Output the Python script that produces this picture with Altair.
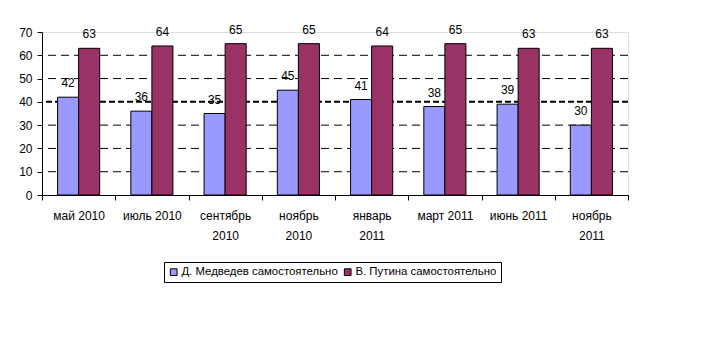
import altair as alt
import pandas as pd

months = ["май 2010", "июль 2010", "сентябрь|2010", "ноябрь|2010",
          "январь|2011", "март 2011", "июнь 2011", "ноябрь|2011"]
series = ["Д. Медведев самостоятельно", "В. Путина самостоятельно"]
medvedev = [42, 36, 35, 45, 41, 38, 39, 30]
putin = [63, 64, 65, 65, 64, 65, 63, 63]
colors = ["#9999FF", "#993366"]

rows = []
for m, a, b in zip(months, medvedev, putin):
    rows.append({"month": m, "series": series[0], "value": a})
    rows.append({"month": m, "series": series[1], "value": b})
df = pd.DataFrame(rows)

grid_thin = pd.DataFrame({"v": [10, 20, 30, 50, 60]})
grid_thick = pd.DataFrame({"v": [40]})

FONT = "Liberation Sans"

y_scale = alt.Scale(domain=[0, 70], nice=False)
y_axis = alt.Axis(values=[0, 10, 20, 30, 40, 50, 60, 70], grid=False, title=None,
                  labelFontSize=12, labelFont=FONT, labelColor="black",
                  tickColor="black", domainColor="black", tickSize=5,
                  labelPadding=5, labelOverlap=False)

x_enc = alt.X("month:N", sort=months, title=None,
              scale=alt.Scale(paddingInner=0, paddingOuter=0),
              axis=alt.Axis(labelExpr="isValid(datum.value) ? split(datum.value, '|') : ''",
                            labelAngle=0,
                            labelFontSize=12, labelFont=FONT, labelColor="black",
                            labelLineHeight=20, labelPadding=10,
                            tickBand="extent", tickSize=5, tickColor="black",
                            domainColor="black", labelBaseline="top",
                            labelOverlap=False, labelBound=False))
xo = alt.XOffset("series:N", sort=series,
                 scale=alt.Scale(paddingInner=0, paddingOuter=0.74))
col = alt.Color("series:N", sort=series,
                scale=alt.Scale(domain=series, range=colors),
                legend=alt.Legend(title=None, orient="none", direction="horizontal",
                                  legendX=122, legendY=230,
                                  strokeColor="black", padding=4,
                                  labelFont=FONT, labelFontSize=11.4, labelColor="black",
                                  labelLimit=0,
                                  symbolType="square", symbolSize=45,
                                  symbolStrokeColor="black", symbolStrokeWidth=1,
                                  columnPadding=4, labelOffset=2))

gl1 = alt.Chart(grid_thin).mark_rule(color="black", strokeDash=[8, 5], strokeWidth=1).encode(
    y=alt.Y("v:Q", scale=y_scale, axis=y_axis))
gl2 = alt.Chart(grid_thick).mark_rule(color="black", strokeDash=[6, 3], strokeWidth=2).encode(
    y=alt.Y("v:Q", scale=y_scale, axis=y_axis))

bars = alt.Chart(df).mark_bar(stroke="black", strokeWidth=1).encode(
    x=x_enc, y=alt.Y("value:Q", scale=y_scale, axis=y_axis), xOffset=xo, color=col)
labels = alt.Chart(df).mark_text(baseline="bottom", dy=-7, fontSize=12, font=FONT,
                                 color="black").encode(
    x=alt.X("month:N", sort=months), y=alt.Y("value:Q", scale=y_scale, axis=y_axis),
    xOffset=xo, text="value:Q")

chart = alt.layer(gl1, gl2, bars, labels).properties(
    width=586, height=163,
    autosize=alt.AutoSizeParams(type="none"),
    padding={"left": 34, "top": 24, "right": 74, "bottom": 160},
).configure_view(stroke=None).configure_axis(grid=False).configure(background="white")

chart.save("out.html", embed_options={"renderer": "svg", "actions": False})
